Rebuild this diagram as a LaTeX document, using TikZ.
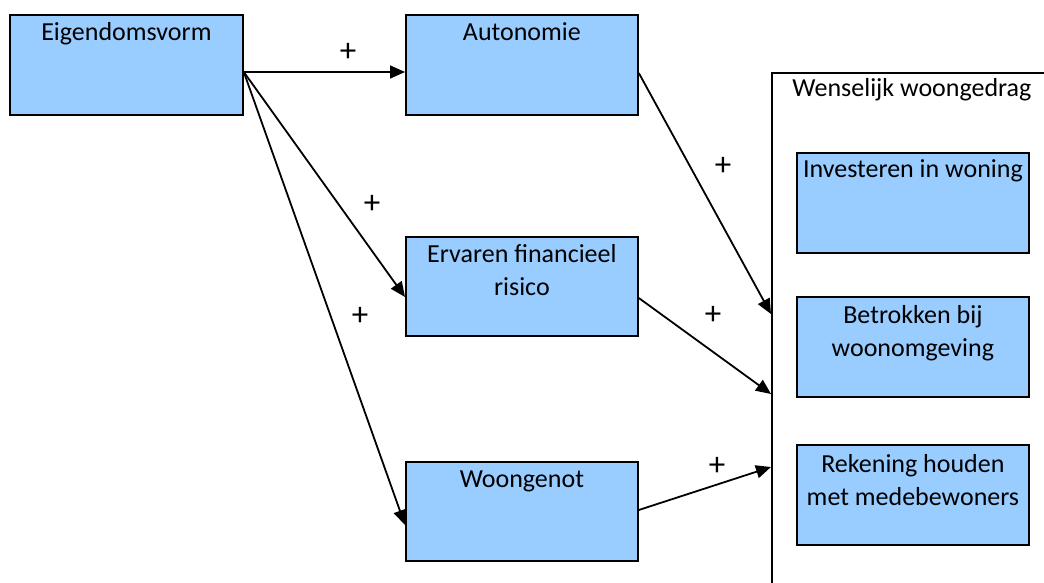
\documentclass[tikz,border=0pt]{standalone}
\usepackage{fontspec}
\setmainfont{Carlito}
\usetikzlibrary{arrows.meta,calc}
\definecolor{boxblue}{HTML}{99CCFF}
\begin{document}
\begin{tikzpicture}[x=1pt,y=-1pt,
  box/.style={draw=black,line width=1.8pt,fill=boxblue,minimum width=232pt,minimum height=100pt,inner sep=0pt,anchor=north west},
  boxtext/.style={anchor=base,align=center,inner sep=0pt,font=\fontsize{26}{33}\selectfont},
  arr/.style={line width=1.8pt,-{Triangle[length=15pt,width=13pt]}},
  plus/.style={font=\fontsize{33}{36}\selectfont,inner sep=0pt}]
\useasboundingbox (0,0) rectangle (1044,583);
\clip (0,0) rectangle (1044,583);

% container
\node[draw=black,line width=1.8pt,minimum width=280pt,minimum height=560pt,inner sep=0pt,anchor=north west] (wens) at (771,72) {};
\node[boxtext] (wenstxt) at ($(wens.north)+(0,25)$) {Wenselijk woongedrag};

% boxes
\node[box,minimum width=233pt] (eig) at (9,14) {};
\node[box] (auto) at (405,14) {};
\node[box,minimum height=99pt] (risk) at (405,236) {};
\node[box,minimum height=99pt] (genot) at (405,461) {};
\node[box] (inv) at (796,152) {};
\node[box] (betr) at (796,296) {};
\node[box] (rek) at (796,444) {};

% single-line texts: anchor at first baseline
\node[boxtext] (eigt) at ($(eig.north)+(0,27)$) {Eigendomsvorm};
\node[boxtext] (autot) at ($(auto.north)+(0,27)$) {Autonomie};
\node[boxtext] (genott) at ($(genot.north)+(0,26)$) {Woongenot};
\node[boxtext] (invt) at ($(inv.north)+(0,26)$) {Investeren in woning};
% two-line texts: base anchor is the last baseline
\node[boxtext] (riskt) at ($(risk.north)+(0,26+33)$) {Ervaren financieel\\risico};
\node[boxtext] (betrt) at ($(betr.north)+(0,27+33)$) {Betrokken bij\\woonomgeving};
\node[boxtext] (rekt) at ($(rek.north)+(0,28+33)$) {Rekening houden\\met medebewoners};

% arrows
\draw[arr] (eig.east |- 0,72) -- (auto.west |- 0,72);
\draw[arr] (eig.east |- 0,72) -- (risk.west |- 0,297);
\draw[arr] (eig.east |- 0,72) -- (genot.west |- 0,525);
\draw[arr] (auto.east |- 0,73) -- (wens.west |- 0,314);
\draw[arr] (risk.east |- 0,298) -- (wens.west |- 0,394);
\draw[arr] (genot.east |- 0,510) -- (wens.west |- 0,467);

% labels
\node[plus] (p1) at (348,52) {+};
\node[plus] (p2) at (372,204) {+};
\node[plus] (p3) at (360,316) {+};
\node[plus] (p4) at (723,166) {+};
\node[plus] (p5) at (713,315) {+};
\node[plus] (p6) at (717,466) {+};
\end{tikzpicture}
\end{document}
